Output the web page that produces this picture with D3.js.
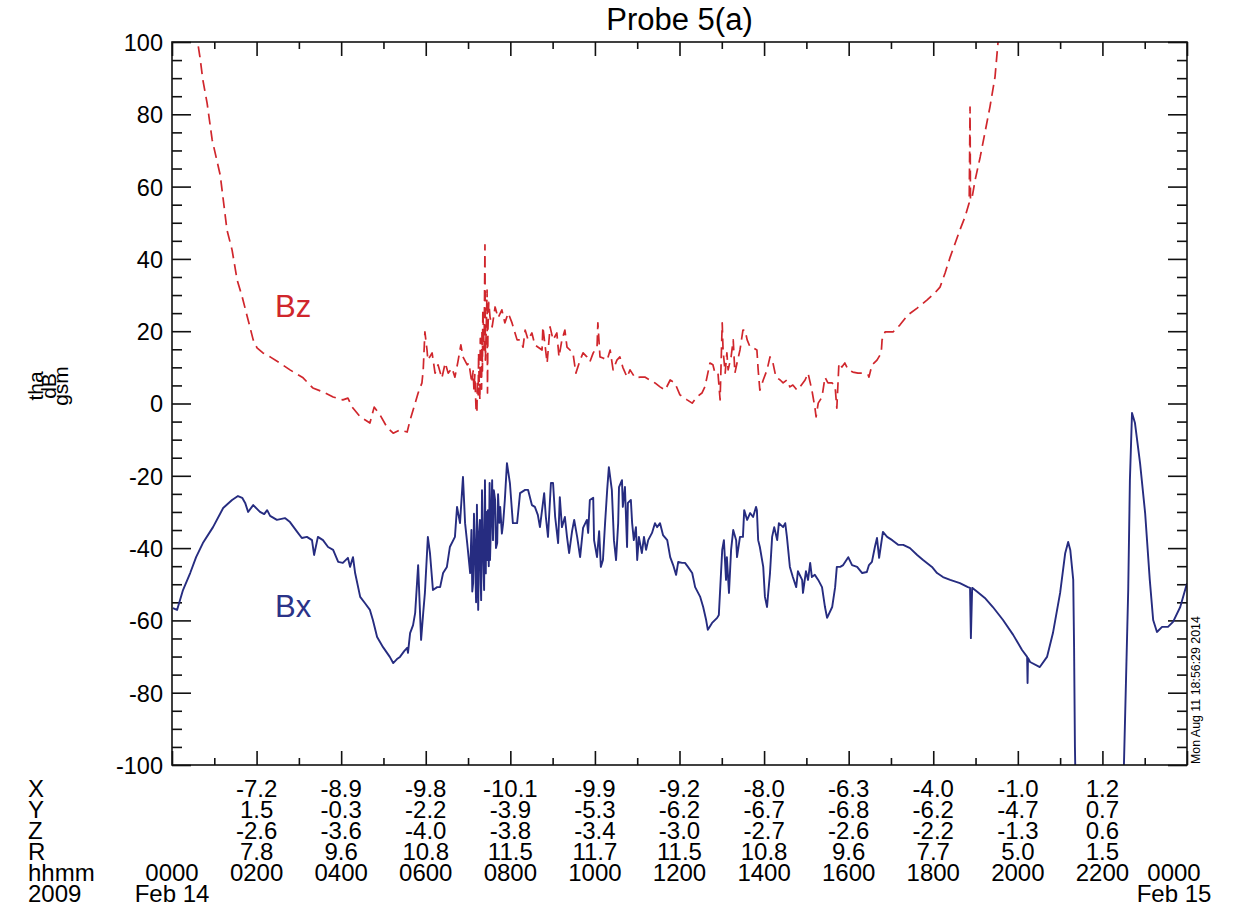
<!DOCTYPE html>
<html>
<head>
<meta charset="utf-8">
<script src="https://cdn.jsdelivr.net/npm/d3@7"></script>
<style>
  body { margin: 0; background: #fff; }
  text { font-family: "Liberation Sans", Arial, Helvetica, sans-serif; }
</style>
</head>
<body>
<svg id="chart" width="1238" height="909"></svg>
<script>
// THEMIS-A magnetic field residuals (GSM), 2009 Feb 14 — [hours since 0000 UT, nT]
const bxSeries = [
  [0.02,-56.6],[0.12,-57.1],[0.26,-51.6],[0.43,-46.9],[0.57,-42.5],[0.73,-38.6],[0.97,-34.2],[1.21,-28.9],
  [1.42,-26.7],[1.56,-25.6],[1.66,-26.1],[1.73,-27.5],[1.80,-30.0],[1.92,-28.1],[2.08,-30.0],[2.18,-30.6],
  [2.25,-29.5],[2.32,-31.1],[2.48,-32.2],[2.67,-31.7],[2.79,-32.8],[2.96,-35.5],[3.07,-37.2],[3.19,-36.9],
  [3.31,-37.8],[3.36,-41.9],[3.45,-36.9],[3.57,-37.8],[3.69,-39.7],[3.81,-40.5],[3.93,-43.8],[4.04,-44.1],
  [4.16,-42.7],[4.21,-45.2],[4.28,-42.5],[4.33,-46.9],[4.45,-53.5],[4.56,-55.2],[4.68,-57.1],[4.75,-59.9],
  [4.85,-64.6],[4.99,-67.4],[5.15,-70.1],[5.23,-71.8],[5.32,-70.7],[5.39,-70.1],[5.49,-68.5],[5.56,-67.6],
  [5.58,-69.0],[5.63,-63.5],[5.70,-61.3],[5.75,-57.9],[5.82,-44.7],[5.89,-65.4],[5.94,-57.9],[5.98,-52.4],
  [6.05,-36.9],[6.10,-41.4],[6.17,-51.6],[6.27,-50.8],[6.34,-50.8],[6.41,-46.9],[6.50,-45.2],[6.57,-39.7],
  [6.69,-36.9],[6.74,-28.6],[6.81,-33.1],[6.88,-20.3],[6.93,-33.1],[6.98,-38.6],[7.05,-46.9],[7.08,-35.0],
  [7.10,-52.0],[7.12,-49.7],[7.14,-30.5],[7.16,-38.6],[7.19,-55.0],[7.21,-28.0],[7.24,-57.1],[7.26,-36.0],
  [7.28,-32.2],[7.30,-50.0],[7.31,-54.4],[7.33,-24.0],[7.35,-37.8],[7.37,-48.0],[7.38,-51.6],[7.40,-21.2],
  [7.42,-47.0],[7.43,-30.0],[7.45,-43.3],[7.47,-29.5],[7.49,-45.0],[7.51,-22.0],[7.52,-43.3],[7.55,-30.0],
  [7.57,-21.2],[7.59,-37.8],[7.61,-24.0],[7.64,-26.7],[7.66,-40.0],[7.69,-38.6],[7.71,-25.1],[7.74,-33.0],
  [7.76,-28.6],[7.80,-36.0],[7.83,-33.1],[7.87,-26.7],[7.92,-16.5],[7.99,-22.0],[8.06,-33.1],[8.16,-33.1],
  [8.23,-24.8],[8.35,-23.9],
  [8.42,-23.9],[8.51,-28.1],[8.58,-28.6],[8.65,-30.8],[8.70,-34.2],[8.80,-24.8],[8.84,-31.4],[8.89,-36.9],
  [8.96,-22.0],[9.01,-22.0],[9.06,-31.4],[9.13,-38.6],[9.17,-25.9],[9.22,-34.2],[9.29,-31.4],[9.34,-36.9],
  [9.39,-41.4],[9.46,-35.3],[9.51,-32.2],[9.58,-36.9],[9.65,-42.5],[9.72,-34.4],[9.81,-32.2],[9.84,-35.8],
  [9.88,-26.7],[9.96,-26.1],[9.98,-37.8],[10.05,-42.5],[10.10,-35.3],[10.14,-45.2],[10.19,-43.3],[10.24,-33.1],
  [10.29,-23.9],[10.33,-17.6],[10.40,-23.9],[10.45,-37.8],[10.50,-43.3],[10.55,-33.1],[10.57,-23.1],[10.64,-21.2],
  [10.66,-28.6],[10.71,-23.1],[10.76,-39.7],[10.78,-27.5],[10.85,-26.7],[10.88,-33.1],[10.92,-37.8],[10.97,-34.2],
  [11.00,-43.3],[11.04,-36.9],[11.11,-41.4],[11.16,-36.9],[11.21,-40.5],[11.26,-37.8],[11.35,-35.8],[11.42,-33.1],
  [11.47,-34.2],[11.54,-33.1],[11.61,-36.4],[11.71,-37.8],[11.78,-42.5],[11.85,-44.7],[11.92,-47.4],[11.97,-43.8],
  [12.06,-44.1],[12.13,-44.1],[12.20,-45.2],[12.30,-46.9],[12.37,-50.8],[12.49,-53.5],[12.56,-56.3],[12.63,-59.9],
  [12.67,-62.6],[12.77,-60.7],[12.89,-59.3],[12.93,-58.5],[13.01,-40.5],[13.05,-37.8],[13.10,-48.8],[13.12,-42.5],
  [13.17,-52.4],[13.22,-40.5],[13.27,-35.0],[13.34,-37.8],[13.36,-42.5],[13.43,-36.9],[13.50,-36.9],[13.53,-29.5],
  [13.60,-32.2],[13.67,-30.3],[13.74,-31.4],[13.81,-28.6],[13.83,-29.5],[13.86,-37.8],[13.90,-39.7],[13.98,-45.2],
  [14.02,-53.5],[14.07,-56.3],[14.09,-53.5],[14.14,-46.9],[14.19,-36.9],[14.24,-34.2],[14.31,-37.8],[14.35,-33.1],
  [14.45,-34.2],[14.50,-33.1],[14.54,-36.9],[14.61,-45.2],[14.68,-48.0],[14.76,-50.8],[14.80,-46.4],[14.90,-48.8],
  [14.92,-52.4],[14.99,-46.4],[15.04,-48.8],[15.09,-44.1],[15.13,-48.0],[15.20,-47.4],[15.28,-48.8],[15.37,-50.8],
  [15.44,-56.3],[15.49,-59.3],[15.61,-56.3],[15.68,-50.8],[15.72,-45.2],[15.80,-45.2],[15.87,-44.7],[15.99,-42.5],
  [16.08,-44.7],[16.20,-45.2],[16.32,-46.9],[16.43,-46.6],[16.48,-44.7],[16.55,-43.8],[16.62,-39.7],[16.67,-37.2],
  [16.72,-42.7],[16.81,-35.5],[16.91,-36.9],[17.03,-37.8],[17.17,-39.1],[17.29,-39.1],[17.45,-40.0],[17.62,-41.9],
  [17.76,-43.3],[17.97,-45.2],[18.09,-46.9],[18.23,-48.0],[18.40,-48.8],[18.63,-49.7],[18.82,-50.8],[18.87,-51.0],
  [18.89,-64.9],[18.92,-51.0],[19.04,-52.1],[19.22,-53.8],[19.41,-56.3],[19.65,-59.9],[19.89,-64.0],[20.10,-68.2],
  [20.22,-70.1],[20.23,-77.3],[20.24,-70.4],[20.29,-71.5],[20.52,-72.9],[20.69,-70.1],[20.83,-63.5],[21.00,-52.4],
  [21.12,-41.4],[21.19,-38.3],[21.24,-40.5],[21.31,-48.8],[21.33,-67.4],[21.35,-95.0],[21.40,-130],[21.59,-180],
  [21.95,-200],[22.30,-170],[22.46,-120],[22.51,-99.4],[22.61,-51.6],[22.65,-21.2],[22.70,-2.6],[22.77,-5.4],
  [22.89,-16.5],[23.01,-30.3],[23.12,-48.8],[23.20,-59.9],[23.29,-63.2],[23.41,-61.8],[23.55,-61.8],[23.67,-60.4],
  [23.84,-56.3],[24.00,-49.7]
];

const bzSeries = [
  [0.00,150],[0.30,125],[0.61,99.7],[0.66,95.9],[0.73,89.5],[0.83,83.1],[0.95,72.9],[1.14,63.2],[1.30,48.0],
  [1.42,42.5],[1.54,34.2],[1.66,29.5],[1.80,23.1],[1.92,17.6],[2.01,15.4],[2.15,14.0],[2.32,12.9],[2.55,11.2],
  [2.79,9.3],[3.10,7.1],[3.33,4.3],[3.57,3.2],[3.81,1.8],[4.04,1.0],[4.16,1.5],[4.26,-1.0],[4.45,-3.7],
  [4.68,-5.4],[4.78,-1.0],[4.92,-3.2],[5.08,-6.5],[5.23,-8.2],[5.39,-7.3],[5.56,-7.9],[5.63,-4.6],[5.75,0.1],
  [5.82,2.9],[5.91,5.7],[5.94,9.3],[5.98,19.8],[6.03,14.8],[6.05,12.0],[6.15,14.0],[6.22,8.4],[6.29,10.7],
  [6.38,7.0],[6.46,11.2],[6.53,8.4],[6.62,9.8],[6.69,7.3],[6.76,11.5],[6.83,16.2],[6.88,12.9],[6.98,10.7],
  [7.02,11.2],[7.09,5.7],[7.12,9.0],[7.14,3.7],[7.16,8.0],[7.19,-1.8],[7.21,-2.6],[7.22,6.0],[7.24,2.4],
  [7.25,14.0],[7.26,7.3],[7.28,1.0],[7.29,18.0],[7.31,12.9],[7.32,4.0],[7.33,20.3],[7.34,9.0],[7.35,25.9],
  [7.38,14.8],[7.40,43.9],[7.41,12.0],[7.43,20.3],[7.45,31.4],[7.46,2.9],[7.47,20.3],[7.49,28.0],[7.52,23.9],
  [7.57,21.2],[7.64,26.7],[7.71,23.7],[7.80,25.9],[7.87,22.3],[7.95,25.0],[8.04,22.3],[8.16,17.6],[8.23,17.6],
  [8.30,15.6],[8.35,20.3],[8.42,17.6],[8.51,19.5],[8.58,16.2],[8.75,14.8],[8.77,21.2],[8.87,11.2],[8.94,21.2],
  [9.01,17.6],[9.10,19.5],[9.15,12.9],[9.22,17.6],[9.29,20.3],[9.34,15.6],[9.41,14.8],[9.48,14.0],[9.55,8.4],
  [9.65,12.0],[9.72,14.0],[9.81,12.9],[9.88,11.5],[9.96,14.0],[10.05,15.6],[10.07,22.3],[10.12,12.9],[10.19,12.6],
  [10.29,12.0],[10.36,14.8],[10.43,9.3],[10.52,12.0],[10.59,12.9],[10.66,10.0],[10.76,7.3],[10.83,9.3],[10.95,7.1],
  [11.07,7.3],[11.18,7.3],[11.30,6.5],[11.42,5.7],[11.54,4.6],[11.66,3.7],[11.78,6.5],[11.89,5.7],[12.01,2.4],
  [12.18,1.0],[12.30,0.1],[12.41,1.8],[12.53,2.9],[12.60,4.6],[12.65,7.3],[12.72,11.2],[12.79,10.7],[12.84,8.4],
  [12.91,8.4],[12.96,1.0],[13.01,22.3],[13.03,14.8],[13.08,8.4],[13.12,14.0],[13.15,9.3],[13.22,12.9],[13.27,17.6],
  [13.31,8.4],[13.36,11.2],[13.43,14.8],[13.50,20.3],[13.55,20.3],[13.60,17.6],[13.67,15.6],[13.74,15.4],[13.83,14.8],
  [13.86,9.3],[13.90,3.7],[13.98,6.5],[14.07,9.3],[14.14,12.9],[14.21,11.2],[14.28,7.3],[14.38,6.5],[14.45,5.7],
  [14.54,6.5],[14.61,4.6],[14.68,5.1],[14.78,3.7],[14.85,4.6],[14.97,6.5],[15.04,8.4],[15.13,3.7],[15.20,-1.0],
  [15.23,-3.7],[15.28,0.1],[15.37,1.8],[15.44,7.3],[15.51,5.7],[15.61,5.7],[15.68,4.6],[15.72,-1.3],[15.77,11.2],
  [15.84,10.1],[15.91,11.2],[15.99,9.3],[16.10,8.7],[16.22,8.4],[16.34,8.4],[16.46,7.9],[16.48,7.3],[16.55,10.6],
  [16.67,12.0],[16.77,14.0],[16.79,17.6],[16.86,19.8],[17.05,19.8],[17.21,21.7],[17.40,24.5],[17.62,26.4],
  [17.85,28.6],[18.04,30.6],[18.16,32.2],[18.28,36.1],[18.40,40.5],[18.52,44.4],[18.63,48.0],[18.75,51.6],
  [18.85,55.5],[18.87,82.0],[18.88,56.3],[18.92,57.1],[18.99,61.8],[19.11,68.2],[19.22,74.8],[19.34,82.0],
  [19.46,90.3],[19.53,99.7],[19.65,115],[19.82,140]
];

// Orbit position rows printed under the 2-hour ticks (R_E, GSM)
const labelHours = [2, 4, 6, 8, 10, 12, 14, 16, 18, 20, 22];
const posX = ["-7.2","-8.9","-9.8","-10.1","-9.9","-9.2","-8.0","-6.3","-4.0","-1.0","1.2"];
const posY = ["1.5","-0.3","-2.2","-3.9","-5.3","-6.2","-6.7","-6.8","-6.2","-4.7","0.7"];
const posZ = ["-2.6","-3.6","-4.0","-3.8","-3.4","-3.0","-2.7","-2.6","-2.2","-1.3","0.6"];
const posR = ["7.8","9.6","10.8","11.5","11.7","11.5","10.8","9.6","7.7","5.0","1.5"];
const hhmmLabels = ["0000","0200","0400","0600","0800","1000","1200","1400","1600","1800","2000","2200","0000"];
const rowNames = ["X", "Y", "Z", "R", "hhmm", "2009"];
const yTicks = [-100, -80, -60, -40, -20, 0, 20, 40, 60, 80, 100];

const svg = d3.select("#chart");
const plotL = 172, plotR = 1187, plotT = 42, plotB = 765;

const x = d3.scaleLinear().domain([0, 24]).range([plotL, plotR]);
const y = d3.scaleLinear().domain([-100, 100]).range([plotB, plotT]);

svg.append("rect").attr("width", 1238).attr("height", 909).attr("fill", "#fff");

svg.append("defs").append("clipPath").attr("id", "plotClip")
  .append("rect").attr("x", plotL).attr("y", plotT)
  .attr("width", plotR - plotL).attr("height", plotB - plotT);

// Title
svg.append("text").attr("x", (plotL + plotR) / 2).attr("y", 30)
  .attr("text-anchor", "middle").attr("font-size", 31).attr("fill", "#000")
  .text("Probe 5(a)");

// Axes: inward ticks on all four sides
const axisColor = "#111";
function styleAxis(g) {
  g.select(".domain").remove();
  g.selectAll(".tick line").attr("stroke", axisColor).attr("stroke-width", 1.6);
  g.selectAll(".tick text").attr("fill", "#000")
    .attr("font-family", "'Liberation Sans', Arial, sans-serif");
}
const minorY = d3.range(-100, 101, 5).filter(v => v % 20 !== 0);
const majorH = d3.range(0, 25, 2);
const minorH = d3.range(1, 24, 2);

svg.append("g").attr("transform", `translate(${plotL},0)`)
  .call(d3.axisLeft(y).tickValues(yTicks).tickSize(-19).tickPadding(9)
    .tickFormat(d => String(d)))
  .call(styleAxis)
  .call(g => g.selectAll(".tick text").attr("font-size", 23.5).attr("dy", "0.36em"));
svg.append("g").attr("transform", `translate(${plotL},0)`)
  .call(d3.axisLeft(y).tickValues(minorY).tickSize(-10).tickFormat(""))
  .call(styleAxis);
svg.append("g").attr("transform", `translate(${plotR},0)`)
  .call(d3.axisRight(y).tickValues(yTicks).tickSize(-19).tickFormat(""))
  .call(styleAxis);
svg.append("g").attr("transform", `translate(${plotR},0)`)
  .call(d3.axisRight(y).tickValues(minorY).tickSize(-10).tickFormat(""))
  .call(styleAxis);
svg.append("g").attr("transform", `translate(0,${plotB})`)
  .call(d3.axisBottom(x).tickValues(majorH).tickSize(-14).tickFormat(""))
  .call(styleAxis);
svg.append("g").attr("transform", `translate(0,${plotB})`)
  .call(d3.axisBottom(x).tickValues(minorH).tickSize(-7).tickFormat(""))
  .call(styleAxis);
svg.append("g").attr("transform", `translate(0,${plotT})`)
  .call(d3.axisTop(x).tickValues(majorH).tickSize(-14).tickFormat(""))
  .call(styleAxis);
svg.append("g").attr("transform", `translate(0,${plotT})`)
  .call(d3.axisTop(x).tickValues(minorH).tickSize(-7).tickFormat(""))
  .call(styleAxis);

// Data lines
const line = d3.line().x(d => x(d[0])).y(d => y(d[1]));
const plot = svg.append("g").attr("clip-path", "url(#plotClip)");

plot.append("path").datum(bzSeries).attr("d", line)
  .attr("fill", "none").attr("stroke", "#d0262c").attr("stroke-width", 1.7)
  .attr("stroke-dasharray", "11,6").attr("stroke-linejoin", "round");

plot.append("path").datum(bxSeries).attr("d", line)
  .attr("fill", "none").attr("stroke", "#262c80").attr("stroke-width", 1.9)
  .attr("stroke-linejoin", "round");

// Frame
svg.append("rect").attr("x", plotL).attr("y", plotT)
  .attr("width", plotR - plotL).attr("height", plotB - plotT)
  .attr("fill", "none").attr("stroke", axisColor).attr("stroke-width", 1.6);

// Series labels
svg.append("text").attr("x", 275).attr("y", 317).attr("font-size", 31)
  .attr("fill", "#d0262c").text("Bz");
svg.append("text").attr("x", 275).attr("y", 617).attr("font-size", 31)
  .attr("fill", "#2b3388").text("Bx");

// Y axis title (three stacked lines, rotated)
const yTitle = svg.append("g").attr("transform", "translate(0,386) rotate(-90)");
[["tha", 43], ["dB", 55.5], ["gsm", 68]].forEach(([t, off]) => {
  yTitle.append("text").attr("x", 0).attr("y", off).attr("text-anchor", "middle")
    .attr("font-size", 21).attr("fill", "#000").text(t);
});

// Plot creation stamp along the right edge
svg.append("text").attr("transform", `translate(1200,${plotB - 1}) rotate(-90)`)
  .attr("font-size", 12.4).attr("fill", "#000").text("Mon Aug 11 18:56:29 2014");

// Bottom annotation rows
const rowBase = [797, 818, 839, 860, 881, 902];
const fs = 24;
rowNames.forEach((name, i) => {
  svg.append("text").attr("x", 28).attr("y", rowBase[i]).attr("font-size", fs)
    .attr("fill", "#000").text(name);
});
[posX, posY, posZ, posR].forEach((row, i) => {
  svg.append("g").selectAll("text").data(row).join("text")
    .attr("x", (d, j) => x(labelHours[j])).attr("y", rowBase[i])
    .attr("text-anchor", "middle").attr("font-size", fs).attr("fill", "#000")
    .text(d => d);
});
const endShift = -13;
svg.append("g").selectAll("text").data(hhmmLabels).join("text")
  .attr("x", (d, j) => x(j * 2) + (j === 12 ? endShift : 0)).attr("y", rowBase[4])
  .attr("text-anchor", "middle").attr("font-size", fs).attr("fill", "#000")
  .text(d => d);
svg.append("text").attr("x", x(0)).attr("y", rowBase[5]).attr("text-anchor", "middle")
  .attr("font-size", fs).attr("fill", "#000").text("Feb 14");
svg.append("text").attr("x", x(24) + endShift).attr("y", rowBase[5]).attr("text-anchor", "middle")
  .attr("font-size", fs).attr("fill", "#000").text("Feb 15");
</script>
</body>
</html>
